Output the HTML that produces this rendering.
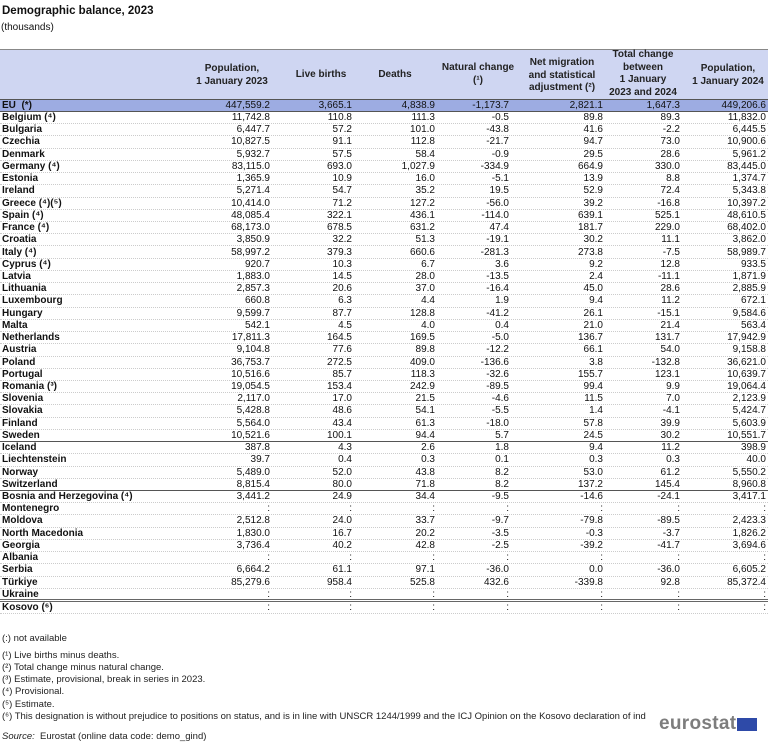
<!DOCTYPE html>
<html><head><meta charset="utf-8"><style>
body{margin:0;width:768px;height:745px;background:#fff;position:relative;font-family:"Liberation Sans",Arial,sans-serif;color:#111;overflow:hidden}
.t{position:absolute;white-space:nowrap}
#hdr{position:absolute;left:0;top:49px;width:768px;height:51px;background:#cfd6f2;border-top:1px solid #888;border-bottom:1px solid #555;box-sizing:border-box}
.h{position:absolute;font-size:10px;font-weight:bold;text-align:center;line-height:12.5px;color:#222}
.r{position:absolute;left:0;width:768px;height:12.225px;font-size:10px;line-height:12.2px;border-bottom:1px dotted #ccc;box-sizing:border-box}
.r span{position:absolute;top:0;text-align:right}
.r span:nth-child(1){left:2px;text-align:left;font-weight:bold}
.r span:nth-child(2){right:498px}
.r span:nth-child(3){right:416px}
.r span:nth-child(4){right:333px}
.r span:nth-child(5){right:259px}
.r span:nth-child(6){right:165px}
.r span:nth-child(7){right:88px}
.r span:nth-child(8){right:2px}
.eu{background:#9dacE2;border-bottom:1px solid #555}
.sep{border-bottom:1px solid #555}
.dbl{border-bottom:3px double #666}
.f{position:absolute;left:2px;font-size:9.5px;color:#222}
</style></head><body>
<div class="t" style="left:2px;top:5px;font-size:11.5px;font-weight:bold">Demographic balance, 2023</div>
<div class="t" style="left:1px;top:22px;font-size:10px">(thousands)</div>
<div id="hdr"></div>
<div class="h" style="left:182px;top:63px;width:100px">Population,<br>1 January 2023</div>
<div class="h" style="left:290px;top:69px;width:62px">Live births</div>
<div class="h" style="left:375px;top:69px;width:40px">Deaths</div>
<div class="h" style="left:428px;top:62px;width:100px">Natural change<br>(¹)</div>
<div class="h" style="left:512px;top:57px;width:100px">Net migration<br>and statistical<br>adjustment (²)</div>
<div class="h" style="left:593px;top:49px;width:100px">Total change<br>between<br>1 January<br>2023 and 2024</div>
<div class="h" style="left:678px;top:63px;width:100px">Population,<br>1 January 2024</div>

<div class="r eu" style="top:100px"><span>EU&nbsp; (*)</span><span>447,559.2</span><span>3,665.1</span><span>4,838.9</span><span>-1,173.7</span><span>2,821.1</span><span>1,647.3</span><span>449,206.6</span></div>
<div class="r" style="top:112px"><span>Belgium (⁴)</span><span>11,742.8</span><span>110.8</span><span>111.3</span><span>-0.5</span><span>89.8</span><span>89.3</span><span>11,832.0</span></div>
<div class="r" style="top:124.2px"><span>Bulgaria</span><span>6,447.7</span><span>57.2</span><span>101.0</span><span>-43.8</span><span>41.6</span><span>-2.2</span><span>6,445.5</span></div>
<div class="r" style="top:136.4px"><span>Czechia</span><span>10,827.5</span><span>91.1</span><span>112.8</span><span>-21.7</span><span>94.7</span><span>73.0</span><span>10,900.6</span></div>
<div class="r" style="top:148.7px"><span>Denmark</span><span>5,932.7</span><span>57.5</span><span>58.4</span><span>-0.9</span><span>29.5</span><span>28.6</span><span>5,961.2</span></div>
<div class="r" style="top:160.9px"><span>Germany (⁴)</span><span>83,115.0</span><span>693.0</span><span>1,027.9</span><span>-334.9</span><span>664.9</span><span>330.0</span><span>83,445.0</span></div>
<div class="r" style="top:173.1px"><span>Estonia</span><span>1,365.9</span><span>10.9</span><span>16.0</span><span>-5.1</span><span>13.9</span><span>8.8</span><span>1,374.7</span></div>
<div class="r" style="top:185.3px"><span>Ireland</span><span>5,271.4</span><span>54.7</span><span>35.2</span><span>19.5</span><span>52.9</span><span>72.4</span><span>5,343.8</span></div>
<div class="r" style="top:197.6px"><span>Greece (⁴)(⁵)</span><span>10,414.0</span><span>71.2</span><span>127.2</span><span>-56.0</span><span>39.2</span><span>-16.8</span><span>10,397.2</span></div>
<div class="r" style="top:209.8px"><span>Spain (⁴)</span><span>48,085.4</span><span>322.1</span><span>436.1</span><span>-114.0</span><span>639.1</span><span>525.1</span><span>48,610.5</span></div>
<div class="r" style="top:222px"><span>France (⁴)</span><span>68,173.0</span><span>678.5</span><span>631.2</span><span>47.4</span><span>181.7</span><span>229.0</span><span>68,402.0</span></div>
<div class="r" style="top:234.2px"><span>Croatia</span><span>3,850.9</span><span>32.2</span><span>51.3</span><span>-19.1</span><span>30.2</span><span>11.1</span><span>3,862.0</span></div>
<div class="r" style="top:246.5px"><span>Italy (⁴)</span><span>58,997.2</span><span>379.3</span><span>660.6</span><span>-281.3</span><span>273.8</span><span>-7.5</span><span>58,989.7</span></div>
<div class="r" style="top:258.7px"><span>Cyprus (⁴)</span><span>920.7</span><span>10.3</span><span>6.7</span><span>3.6</span><span>9.2</span><span>12.8</span><span>933.5</span></div>
<div class="r" style="top:270.9px"><span>Latvia</span><span>1,883.0</span><span>14.5</span><span>28.0</span><span>-13.5</span><span>2.4</span><span>-11.1</span><span>1,871.9</span></div>
<div class="r" style="top:283.1px"><span>Lithuania</span><span>2,857.3</span><span>20.6</span><span>37.0</span><span>-16.4</span><span>45.0</span><span>28.6</span><span>2,885.9</span></div>
<div class="r" style="top:295.4px"><span>Luxembourg</span><span>660.8</span><span>6.3</span><span>4.4</span><span>1.9</span><span>9.4</span><span>11.2</span><span>672.1</span></div>
<div class="r" style="top:307.6px"><span>Hungary</span><span>9,599.7</span><span>87.7</span><span>128.8</span><span>-41.2</span><span>26.1</span><span>-15.1</span><span>9,584.6</span></div>
<div class="r" style="top:319.8px"><span>Malta</span><span>542.1</span><span>4.5</span><span>4.0</span><span>0.4</span><span>21.0</span><span>21.4</span><span>563.4</span></div>
<div class="r" style="top:332px"><span>Netherlands</span><span>17,811.3</span><span>164.5</span><span>169.5</span><span>-5.0</span><span>136.7</span><span>131.7</span><span>17,942.9</span></div>
<div class="r" style="top:344.3px"><span>Austria</span><span>9,104.8</span><span>77.6</span><span>89.8</span><span>-12.2</span><span>66.1</span><span>54.0</span><span>9,158.8</span></div>
<div class="r" style="top:356.5px"><span>Poland</span><span>36,753.7</span><span>272.5</span><span>409.0</span><span>-136.6</span><span>3.8</span><span>-132.8</span><span>36,621.0</span></div>
<div class="r" style="top:368.7px"><span>Portugal</span><span>10,516.6</span><span>85.7</span><span>118.3</span><span>-32.6</span><span>155.7</span><span>123.1</span><span>10,639.7</span></div>
<div class="r" style="top:380.9px"><span>Romania (³)</span><span>19,054.5</span><span>153.4</span><span>242.9</span><span>-89.5</span><span>99.4</span><span>9.9</span><span>19,064.4</span></div>
<div class="r" style="top:393.2px"><span>Slovenia</span><span>2,117.0</span><span>17.0</span><span>21.5</span><span>-4.6</span><span>11.5</span><span>7.0</span><span>2,123.9</span></div>
<div class="r" style="top:405.4px"><span>Slovakia</span><span>5,428.8</span><span>48.6</span><span>54.1</span><span>-5.5</span><span>1.4</span><span>-4.1</span><span>5,424.7</span></div>
<div class="r" style="top:417.6px"><span>Finland</span><span>5,564.0</span><span>43.4</span><span>61.3</span><span>-18.0</span><span>57.8</span><span>39.9</span><span>5,603.9</span></div>
<div class="r sep" style="top:429.8px"><span>Sweden</span><span>10,521.6</span><span>100.1</span><span>94.4</span><span>5.7</span><span>24.5</span><span>30.2</span><span>10,551.7</span></div>
<div class="r" style="top:442.1px"><span>Iceland</span><span>387.8</span><span>4.3</span><span>2.6</span><span>1.8</span><span>9.4</span><span>11.2</span><span>398.9</span></div>
<div class="r" style="top:454.3px"><span>Liechtenstein</span><span>39.7</span><span>0.4</span><span>0.3</span><span>0.1</span><span>0.3</span><span>0.3</span><span>40.0</span></div>
<div class="r" style="top:466.5px"><span>Norway</span><span>5,489.0</span><span>52.0</span><span>43.8</span><span>8.2</span><span>53.0</span><span>61.2</span><span>5,550.2</span></div>
<div class="r sep" style="top:478.7px"><span>Switzerland</span><span>8,815.4</span><span>80.0</span><span>71.8</span><span>8.2</span><span>137.2</span><span>145.4</span><span>8,960.8</span></div>
<div class="r" style="top:491px"><span>Bosnia and Herzegovina (⁴)</span><span>3,441.2</span><span>24.9</span><span>34.4</span><span>-9.5</span><span>-14.6</span><span>-24.1</span><span>3,417.1</span></div>
<div class="r" style="top:503.2px"><span>Montenegro</span><span>:</span><span>:</span><span>:</span><span>:</span><span>:</span><span>:</span><span>:</span></div>
<div class="r" style="top:515.4px"><span>Moldova</span><span>2,512.8</span><span>24.0</span><span>33.7</span><span>-9.7</span><span>-79.8</span><span>-89.5</span><span>2,423.3</span></div>
<div class="r" style="top:527.6px"><span>North Macedonia</span><span>1,830.0</span><span>16.7</span><span>20.2</span><span>-3.5</span><span>-0.3</span><span>-3.7</span><span>1,826.2</span></div>
<div class="r" style="top:539.9px"><span>Georgia</span><span>3,736.4</span><span>40.2</span><span>42.8</span><span>-2.5</span><span>-39.2</span><span>-41.7</span><span>3,694.6</span></div>
<div class="r" style="top:552.1px"><span>Albania</span><span>:</span><span>:</span><span>:</span><span>:</span><span>:</span><span>:</span><span>:</span></div>
<div class="r" style="top:564.3px"><span>Serbia</span><span>6,664.2</span><span>61.1</span><span>97.1</span><span>-36.0</span><span>0.0</span><span>-36.0</span><span>6,605.2</span></div>
<div class="r" style="top:576.5px"><span>Türkiye</span><span>85,279.6</span><span>958.4</span><span>525.8</span><span>432.6</span><span>-339.8</span><span>92.8</span><span>85,372.4</span></div>
<div class="r dbl" style="top:588.8px;height:13.5px"><span>Ukraine</span><span>:</span><span>:</span><span>:</span><span>:</span><span>:</span><span>:</span><span>:</span></div>
<div class="r" style="top:601.5px"><span>Kosovo (⁶)</span><span>:</span><span>:</span><span>:</span><span>:</span><span>:</span><span>:</span><span>:</span></div>

<div class="f" style="top:633px">(:) not available</div>
<div class="f" style="top:650px">(¹) Live births minus deaths.</div>
<div class="f" style="top:662px">(²) Total change minus natural change.</div>
<div class="f" style="top:674px">(³) Estimate, provisional, break in series in 2023.</div>
<div class="f" style="top:686px">(⁴) Provisional.</div>
<div class="f" style="top:699px">(⁵) Estimate.</div>
<div class="f" style="top:711px;white-space:nowrap">(⁶) This designation is without prejudice to positions on status, and is in line with UNSCR 1244/1999 and the ICJ Opinion on the Kosovo declaration of ind</div>
<div class="f" style="top:731px"><i>Source:</i>&nbsp; Eurostat (online data code: demo_gind)</div>
<div class="t" style="left:659px;top:713px;font-size:19px;font-weight:bold;color:#7d7d7d;letter-spacing:0.3px">eurostat</div>
<div style="position:absolute;left:737px;top:718px;width:20px;height:13px;background:#2e4aa8"></div>
</body></html>
